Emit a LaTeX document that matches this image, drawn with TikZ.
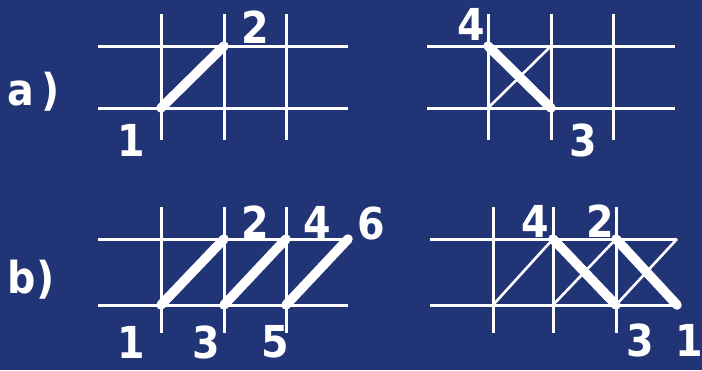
\documentclass[tikz,border=0pt]{standalone}
\usepackage{fontspec}
\setmainfont{DejaVu Sans Condensed}
\definecolor{boardblue}{RGB}{33,52,117}

\begin{document}
\begin{tikzpicture}[x=1pt,y=-1pt]
\tikzset{
  gridline/.style={draw=white,line width=3pt},
  thinpath/.style={draw=white,line width=2.6pt},
  thickpath/.style={draw=white,line width=9.5pt,line cap=round},
  numlabel/.style={text=white,inner sep=0pt,font=\fontsize{44}{44}\selectfont\bfseries},
  partlabel/.style={text=white,inner sep=0pt,font=\fontsize{44}{44}\selectfont\bfseries}
}
\useasboundingbox (0,0) rectangle (702,370);
\fill[boardblue] (0,0) rectangle (702,370);
% grids
\draw[gridline] (98,46) -- (348,46) (98,108) -- (348,108);
\draw[gridline] (161,14) -- (161,140) (224,14) -- (224,140) (286,14) -- (286,140);
\draw[gridline] (427,46) -- (675,46) (427,108) -- (675,108);
\draw[gridline] (488,14) -- (488,140) (551,14) -- (551,140) (613,14) -- (613,140);
\draw[gridline] (98,239) -- (348,239) (98,305) -- (348,305);
\draw[gridline] (161,207) -- (161,333) (224,207) -- (224,333) (286,207) -- (286,333);
\draw[gridline] (430,239) -- (677,239) (430,305) -- (677,305);
\draw[gridline] (493,207) -- (493,333) (553,207) -- (553,333) (616,207) -- (616,333);
% corner points
\coordinate (al_1) at (161,108);
\coordinate (al_2) at (224,46);
\coordinate (ar_4) at (488,46);
\coordinate (ar_3) at (551,108);
\coordinate (ar_x) at (488,108);
\coordinate (ar_y) at (551,46);
\coordinate (bl_1) at (161,305);
\coordinate (bl_2) at (224,239);
\coordinate (bl_3) at (224,305);
\coordinate (bl_4) at (286,239);
\coordinate (bl_5) at (286,305);
\coordinate (bl_6) at (348,239);
\coordinate (br_4) at (553,239);
\coordinate (br_3) at (616,305);
\coordinate (br_2) at (616,239);
\coordinate (br_1) at (677,305);
\coordinate (br_w) at (493,305);
\coordinate (br_x) at (553,305);
\coordinate (br_y) at (677,239);
% labels
\node[partlabel] (lab_a) at (34,92) {a\,)};
\node[partlabel] (lab_b) at (31,280) {b)};
\node[numlabel] (n_al_1) at (131,140) {1};
\node[numlabel] (n_al_2) at (255,27) {2};
\node[numlabel] (n_ar_4) at (471,24) {4};
\node[numlabel] (n_ar_3) at (583,140) {3};
\node[numlabel] (n_bl_1) at (131,342) {1};
\node[numlabel] (n_bl_3) at (206,342) {3};
\node[numlabel] (n_bl_5) at (275,342) {5};
\node[numlabel] (n_bl_2) at (255,222) {2};
\node[numlabel] (n_bl_4) at (317,222) {4};
\node[numlabel] (n_bl_6) at (371,224) {6};
\node[numlabel] (n_br_4) at (535,221) {4};
\node[numlabel] (n_br_2) at (600,221) {2};
\node[numlabel] (n_br_3) at (640,340) {3};
\node[numlabel] (n_br_1) at (689,340) {1};
% paths
\draw[thickpath] (al_1) -- (al_2);
\draw[thinpath] (ar_x) -- (ar_y);
\draw[thickpath] (ar_4) -- (ar_3);
\draw[thickpath] (bl_1) -- (bl_2);
\draw[thickpath] (bl_3) -- (bl_4);
\draw[thickpath] (bl_5) -- (bl_6);
\draw[thinpath] (br_w) -- (br_4);
\draw[thinpath] (br_x) -- (br_2);
\draw[thinpath] (br_3) -- (br_y);
\draw[thickpath] (br_4) -- (br_3);
\draw[thickpath] (br_2) -- (br_1);
\end{tikzpicture}
\end{document}
